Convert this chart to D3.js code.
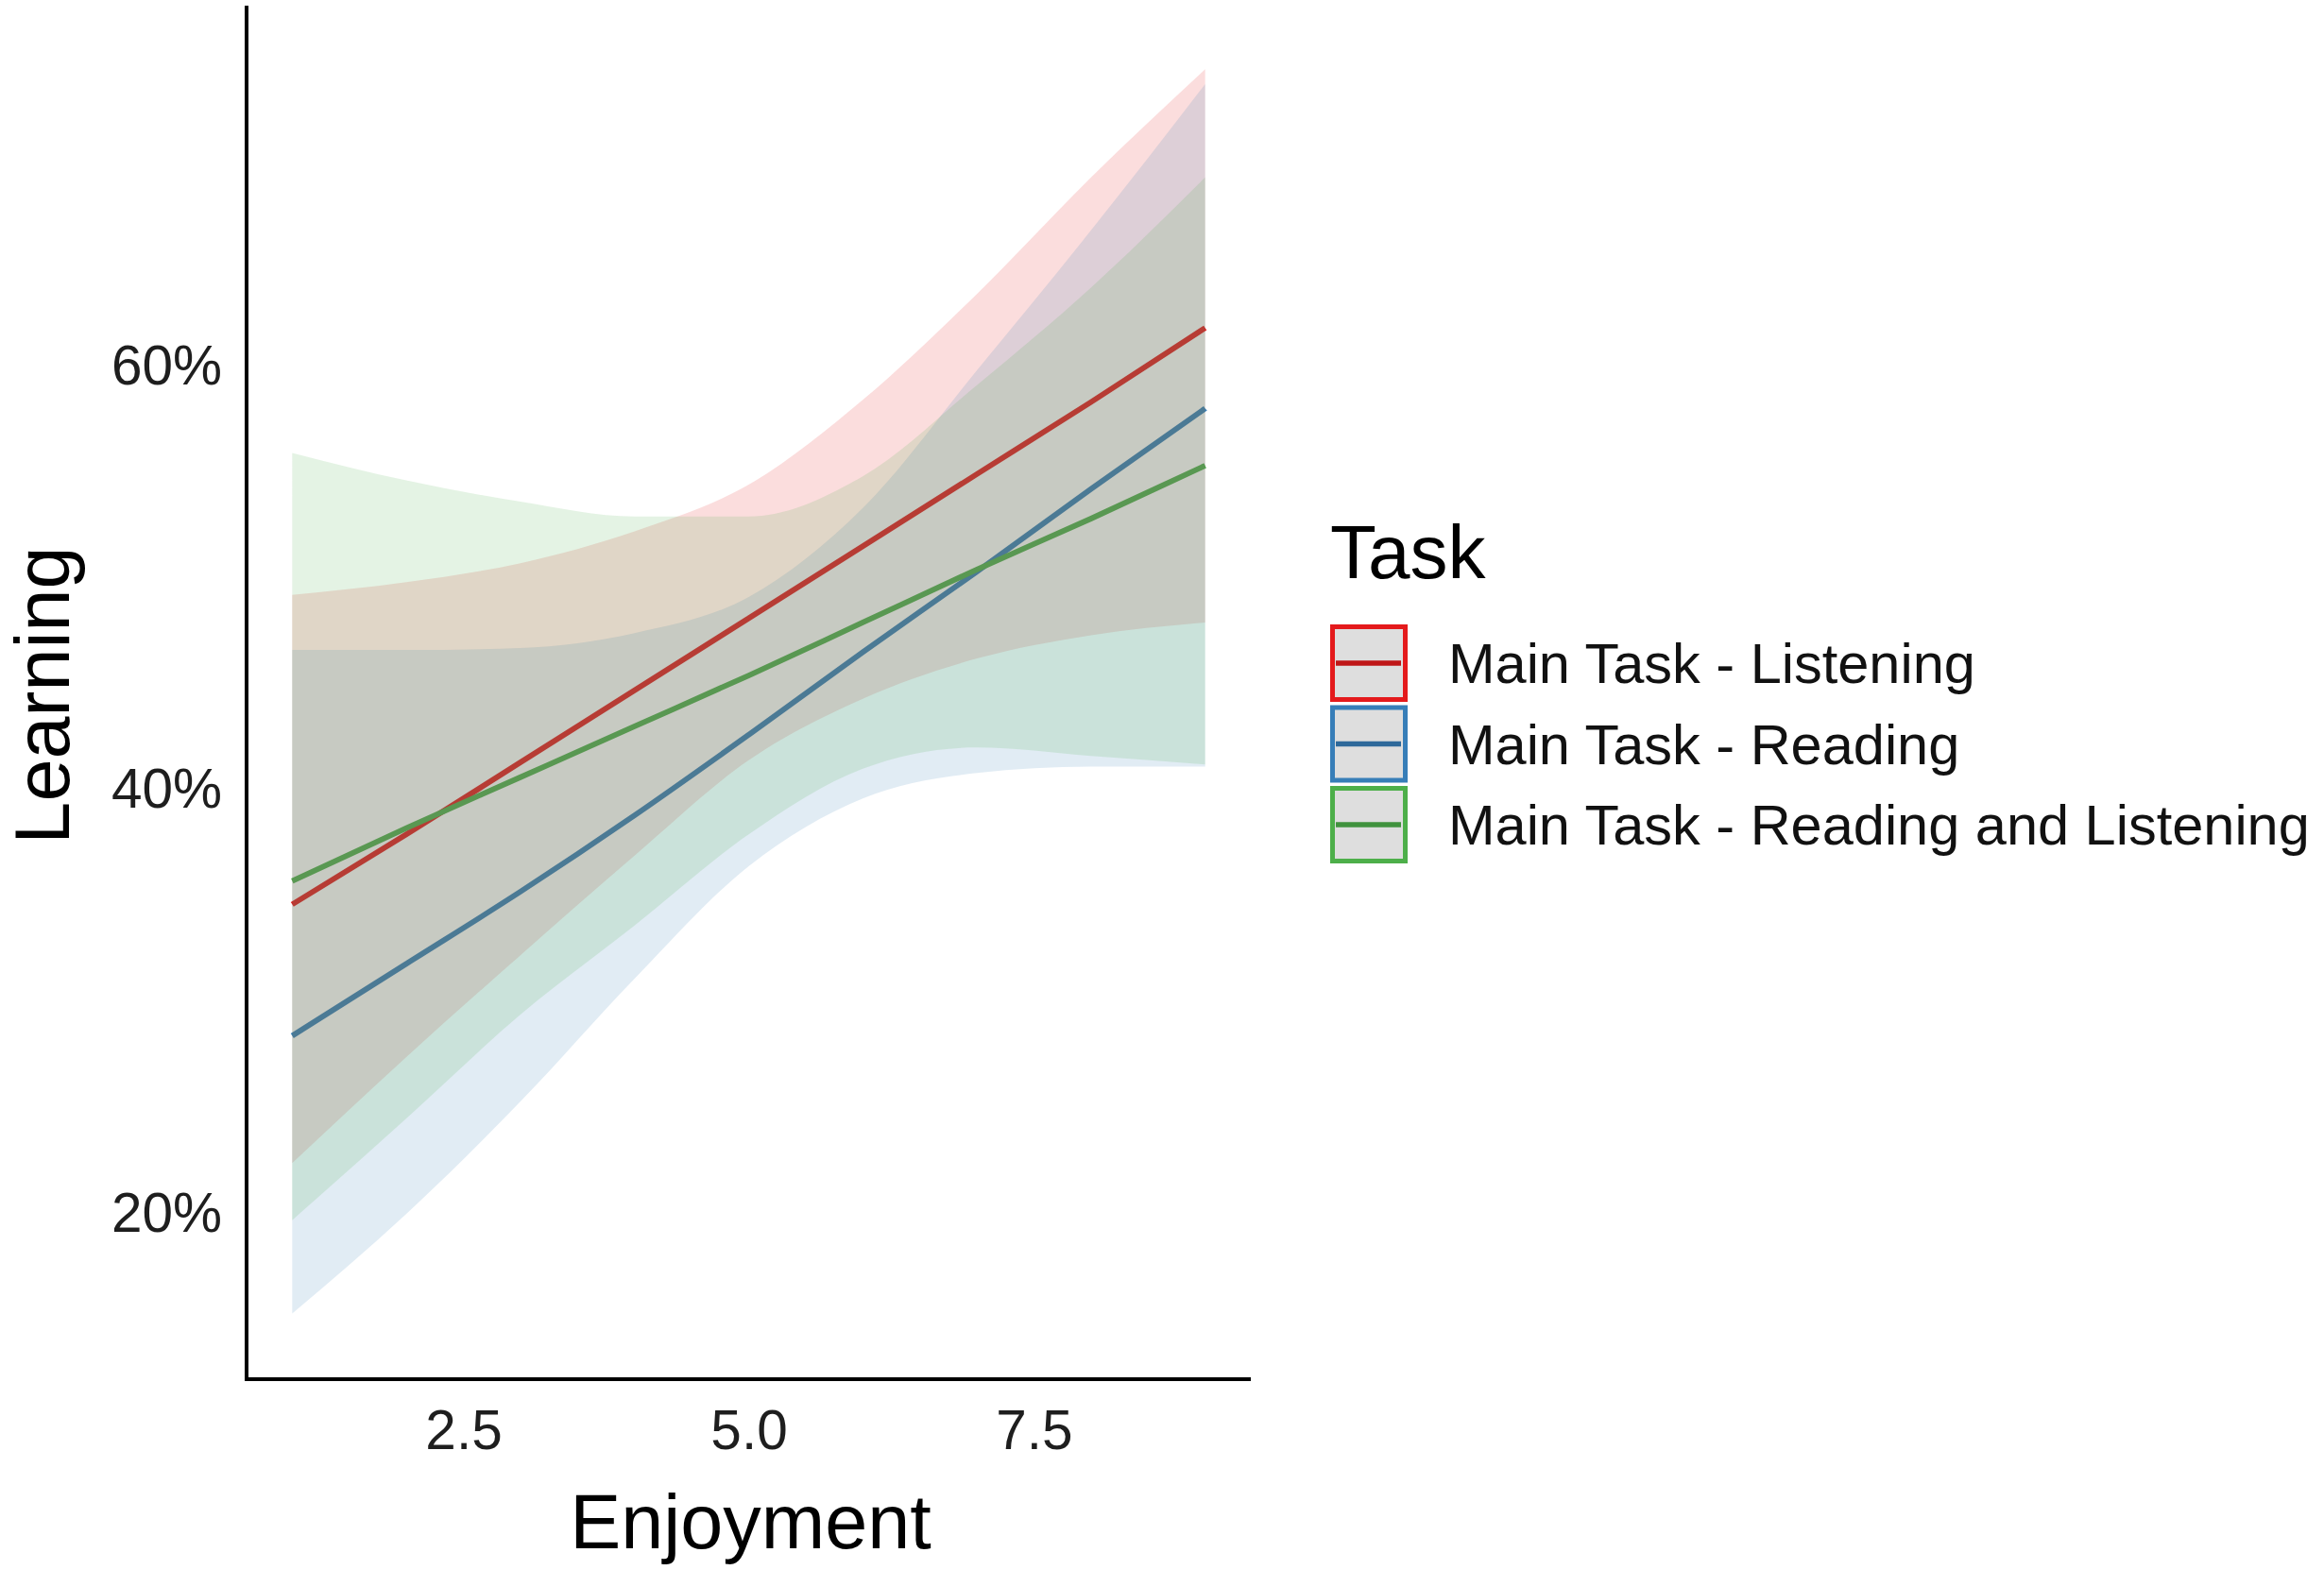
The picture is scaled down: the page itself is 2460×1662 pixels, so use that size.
<!DOCTYPE html>
<html>
<head>
<meta charset="utf-8">
<script src="https://cdn.jsdelivr.net/npm/d3@7"></script>
<style>
  html, body { margin: 0; padding: 0; background: #ffffff; }
  svg { display: block; }
  text { font-family: "Liberation Sans", Arial, Helvetica, sans-serif; }
</style>
</head>
<body>
<svg id="chart" width="2460" height="1662"></svg>
<script>
// ---------------- data ----------------
const enjoyment = [1, 2, 3, 4, 5, 6, 7, 8, 9];

const tasks = ["Main Task - Listening", "Main Task - Reading", "Main Task - Reading and Listening"];
const taskColors = ["#E41A1C", "#377EB8", "#4DAF4A"];

// predicted learning (%) with confidence band, per task
const listeningFit  = [34.6, 37.9, 41.3, 44.7, 48.1, 51.5, 54.9, 58.3, 61.8];
const listeningLow  = [22.4, 27.4, 32.2, 36.9, 41.4, 44.3, 46.2, 47.3, 47.9];
const listeningHigh = [49.2, 49.8, 50.7, 52.2, 54.4, 58.4, 63.4, 68.9, 74.0];

const readingFit  = [28.4, 31.8, 35.2, 38.8, 42.6, 46.5, 50.3, 54.2, 58.0];
const readingLow  = [15.3, 20.0, 25.3, 31.1, 36.4, 39.6, 40.8, 41.1, 41.1];
const readingHigh = [46.6, 46.6, 46.7, 47.4, 49.1, 53.3, 59.8, 66.4, 73.3];

const bothFit  = [35.7, 38.2, 40.6, 43.0, 45.4, 47.9, 50.4, 52.8, 55.3];
const bothLow  = [19.7, 24.5, 29.4, 33.6, 37.9, 41.0, 42.0, 41.6, 41.2];
const bothHigh = [55.9, 54.6, 53.6, 52.9, 52.9, 54.8, 59.1, 63.7, 68.9];

const xTickValues = [2.5, 5.0, 7.5];
const yTickValues = [20, 40, 60];

const xTitle = "Enjoyment";
const yTitle = "Learning";
const legendTitle = "Task";

// ---------------- build series ----------------
const fits = [listeningFit, readingFit, bothFit];
const lows = [listeningLow, readingLow, bothLow];
const highs = [listeningHigh, readingHigh, bothHigh];
const series = tasks.map((t, i) => ({
  name: t,
  color: taskColors[i],
  points: enjoyment.map((e, j) => ({ x: e, fit: fits[i][j], lo: lows[i][j], hi: highs[i][j] }))
}));

// ---------------- layout ----------------
const svg = d3.select("#chart");
const panel = { left: 261, right: 1324, top: 6, bottom: 1460 };

const x = d3.scaleLinear().domain([0.6, 9.4]).range([panel.left, panel.right]);
const y = d3.scaleLinear().domain([12.2, 77.0]).range([panel.bottom, panel.top]);

const plot = svg.append("g");

// lines first (ribbons are laid over them, as in the reference)
const line = d3.line().x(d => x(d.x)).y(d => y(d.fit)).curve(d3.curveMonotoneX);
plot.selectAll("path.fit")
  .data(series)
  .join("path")
  .attr("class", "fit")
  .attr("d", d => line(d.points))
  .attr("fill", "none")
  .attr("stroke", d => d.color)
  .attr("stroke-width", 5.8);

const area = d3.area()
  .x(d => x(d.x))
  .y0(d => y(d.lo))
  .y1(d => y(d.hi))
  .curve(d3.curveMonotoneX);
plot.selectAll("path.band")
  .data(series)
  .join("path")
  .attr("class", "band")
  .attr("d", d => area(d.points))
  .attr("fill", d => d.color)
  .attr("fill-opacity", 0.15)
  .attr("stroke", "none");

// ---------------- axes ----------------
const tickFont = 58.5;
const xAxis = svg.append("g")
  .attr("transform", `translate(0,${panel.bottom})`)
  .call(d3.axisBottom(x).tickValues(xTickValues).tickFormat(d3.format(".1f"))
    .tickSize(0).tickSizeOuter(0).tickPadding(32));
const yAxis = svg.append("g")
  .attr("transform", `translate(${panel.left},0)`)
  .call(d3.axisLeft(y).tickValues(yTickValues).tickFormat(d => d + "%")
    .tickSize(0).tickSizeOuter(0).tickPadding(26));

[xAxis, yAxis].forEach(a => {
  a.select(".domain").attr("stroke", "#000").attr("stroke-width", 4);
  a.selectAll(".tick text")
    .attr("font-size", tickFont)
    .attr("font-family", "'Liberation Sans', Arial, sans-serif")
    .attr("fill", "#1e1e1e");
});
// x axis line joins the y axis corner
xAxis.select(".domain").attr("d", `M${panel.left - 2},0H${panel.right}`);
yAxis.select(".domain").attr("d", `M0,${panel.top}V${panel.bottom + 2}`);

// axis titles
svg.append("text")
  .attr("x", (panel.left + panel.right) / 2 + 2)
  .attr("y", 1639)
  .attr("text-anchor", "middle")
  .attr("font-size", 81)
  .attr("fill", "#000")
  .text(xTitle);

svg.append("text")
  .attr("transform", `translate(73,${(panel.top + panel.bottom) / 2 + 3}) rotate(-90)`)
  .attr("text-anchor", "middle")
  .attr("font-size", 81)
  .attr("fill", "#000")
  .text(yTitle);

// ---------------- legend ----------------
const legend = svg.append("g").attr("transform", "translate(1408,0)");
legend.append("text")
  .attr("x", 0)
  .attr("y", 612)
  .attr("font-size", 80)
  .attr("fill", "#000")
  .text(legendTitle);

const keySize = 82, keyPitch = 85.5, keyTop = 661, keyStroke = 5;
const keys = legend.selectAll("g.key")
  .data(series)
  .join("g")
  .attr("class", "key")
  .attr("transform", (d, i) => `translate(0,${keyTop + i * keyPitch})`);

keys.append("rect")
  .attr("x", keyStroke / 2)
  .attr("y", keyStroke / 2)
  .attr("width", keySize - keyStroke)
  .attr("height", keySize - keyStroke)
  .attr("fill", "#DEDEDE")
  .attr("stroke", d => d.color)
  .attr("stroke-width", keyStroke);

keys.append("line")
  .attr("x1", 6)
  .attr("x2", keySize - 7)
  .attr("y1", keySize / 2)
  .attr("y2", keySize / 2)
  .attr("stroke", d => d3.color(d.color).darker(0.5))
  .attr("stroke-width", 5.5);

keys.append("text")
  .attr("x", 125)
  .attr("y", keySize / 2 + 21)
  .attr("font-size", 59.5)
  .attr("fill", "#111")
  .text(d => d.name);
</script>
</body>
</html>
